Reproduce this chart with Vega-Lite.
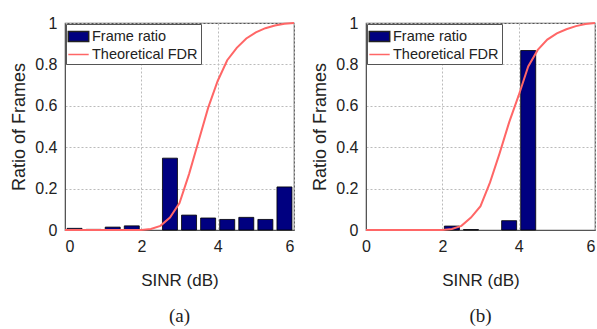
{
  "$schema": "https://vega.github.io/schema/vega-lite/v6.json",
  "padding": {"left": 10, "top": 14, "right": 0, "bottom": 0},
  "spacing": 12,
  "background": "white",
  "config": {
    "font": "Liberation Sans",
    "view": {"stroke": "#555", "strokeWidth": 1.2},
    "axis": {
      "labelFontSize": 16, "labelColor": "#222", "titleColor": "#222", "titleFontWeight": "normal",
      "grid": true, "gridDash": [2, 2], "gridColor": "#bbb",
      "domainColor": "#555", "ticks": false, "labelPadding": 8
    },
    "legend": {
      "orient": "none", "legendX": 1, "legendY": 1, "title": null, "fillColor": "white", "strokeColor": "#555",
      "padding": 3, "labelFontSize": 14.5, "labelColor": "#222", "symbolSize": 289, "rowPadding": 0,
      "labelOffset": 4, "symbolStrokeWidth": 1.5, "symbolOpacity": 1
    },
    "title": {"font": "Liberation Serif", "fontSize": 19, "fontWeight": "normal", "color": "#222", "orient": "bottom", "offset": 19}
  },
  "datasets": {
    "legendItems": [{"series": "Frame ratio"}, {"series": "Theoretical FDR"}],
    "barsA": [
      {"sinr": 0.25, "ratio": 0.008}, {"sinr": 0.75, "ratio": 0.003}, {"sinr": 1.25, "ratio": 0.014},
      {"sinr": 1.75, "ratio": 0.02}, {"sinr": 2.75, "ratio": 0.347}, {"sinr": 3.25, "ratio": 0.072},
      {"sinr": 3.75, "ratio": 0.058}, {"sinr": 4.25, "ratio": 0.051}, {"sinr": 4.75, "ratio": 0.061},
      {"sinr": 5.25, "ratio": 0.051}, {"sinr": 5.75, "ratio": 0.208}
    ],
    "curveA": [
      {"sinr": 0, "fdr": 0}, {"sinr": 1, "fdr": 0}, {"sinr": 2, "fdr": 0}, {"sinr": 2.25, "fdr": 0.005},
      {"sinr": 2.5, "fdr": 0.02}, {"sinr": 2.75, "fdr": 0.06}, {"sinr": 3, "fdr": 0.13}, {"sinr": 3.25, "fdr": 0.27},
      {"sinr": 3.5, "fdr": 0.43}, {"sinr": 3.75, "fdr": 0.59}, {"sinr": 4, "fdr": 0.72}, {"sinr": 4.25, "fdr": 0.82},
      {"sinr": 4.5, "fdr": 0.88}, {"sinr": 4.75, "fdr": 0.925}, {"sinr": 5, "fdr": 0.955}, {"sinr": 5.25, "fdr": 0.975},
      {"sinr": 5.5, "fdr": 0.988}, {"sinr": 5.75, "fdr": 0.996}, {"sinr": 6, "fdr": 1}
    ],
    "barsB": [
      {"sinr": 1.25, "ratio": 0.002}, {"sinr": 2.25, "ratio": 0.019}, {"sinr": 2.75, "ratio": 0.002},
      {"sinr": 3.75, "ratio": 0.045}, {"sinr": 4.25, "ratio": 0.867}
    ],
    "curveB": [
      {"sinr": 0, "fdr": 0}, {"sinr": 1, "fdr": 0}, {"sinr": 2, "fdr": 0}, {"sinr": 2.25, "fdr": 0.005},
      {"sinr": 2.5, "fdr": 0.02}, {"sinr": 2.75, "fdr": 0.06}, {"sinr": 3, "fdr": 0.115}, {"sinr": 3.25, "fdr": 0.23},
      {"sinr": 3.5, "fdr": 0.37}, {"sinr": 3.75, "fdr": 0.52}, {"sinr": 4, "fdr": 0.65}, {"sinr": 4.25, "fdr": 0.79},
      {"sinr": 4.5, "fdr": 0.87}, {"sinr": 4.75, "fdr": 0.92}, {"sinr": 5, "fdr": 0.95}, {"sinr": 5.25, "fdr": 0.97},
      {"sinr": 5.5, "fdr": 0.985}, {"sinr": 5.75, "fdr": 0.995}, {"sinr": 6, "fdr": 1}
    ]
  },
  "hconcat": [
    {
      "width": 229, "height": 207,
      "title": {"text": "(a)"},
      "layer": [
        {
          "data": {"name": "barsA"},
          "mark": {"type": "bar", "size": 15, "fill": "#000080", "stroke": "#000", "strokeWidth": 0.8},
          "encoding": {
            "x": {"field": "sinr", "type": "quantitative", "scale": {"domain": [0, 6], "padding": 0, "nice": false},
                  "axis": {"values": [0, 2, 4, 6], "title": "SINR (dB)", "titleFontSize": 17, "labelPadding": 8, "titlePadding": 18}},
            "y": {"field": "ratio", "type": "quantitative", "scale": {"domain": [0, 1]},
                  "axis": {"values": [0, 0.2, 0.4, 0.6, 0.8, 1], "format": "~g", "title": "Ratio of Frames", "titleFontSize": 18, "titlePadding": 6}}
          }
        },
        {
          "data": {"name": "curveA"},
          "mark": {"type": "line", "stroke": "#ff6666", "strokeWidth": 2},
          "encoding": {
            "x": {"field": "sinr", "type": "quantitative"},
            "y": {"field": "fdr", "type": "quantitative"}
          }
        },
        {
          "data": {"name": "legendItems"},
          "mark": {"type": "point", "filled": true, "opacity": 0},
          "encoding": {
            "fill": {"field": "series", "type": "nominal", "scale": {"domain": ["Frame ratio", "Theoretical FDR"], "range": ["#000080", "transparent"]}, "legend": {"title": null}},
            "stroke": {"field": "series", "type": "nominal", "scale": {"domain": ["Frame ratio", "Theoretical FDR"], "range": ["#222222", "#ff6666"]}, "legend": {"title": null}},
            "shape": {"field": "series", "type": "nominal", "scale": {"domain": ["Frame ratio", "Theoretical FDR"], "range": ["M-1.2,-0.6H1.2V0.6H-1.2Z", "M-1.2,0H1.2"]}, "legend": {"title": null}}
          }
        }
      ]
    },
    {
      "width": 229, "height": 207,
      "title": {"text": "(b)"},
      "layer": [
        {
          "data": {"name": "barsB"},
          "mark": {"type": "bar", "size": 15, "fill": "#000080", "stroke": "#000", "strokeWidth": 0.8},
          "encoding": {
            "x": {"field": "sinr", "type": "quantitative", "scale": {"domain": [0, 6], "padding": 0, "nice": false},
                  "axis": {"values": [0, 2, 4, 6], "title": "SINR (dB)", "titleFontSize": 17, "labelPadding": 8, "titlePadding": 18,
                           "labelAlign": {"condition": {"test": "datum.value === 6", "value": "right"}, "value": "center"}}},
            "y": {"field": "ratio", "type": "quantitative", "scale": {"domain": [0, 1]},
                  "axis": {"values": [0, 0.2, 0.4, 0.6, 0.8, 1], "format": "~g", "title": "Ratio of Frames", "titleFontSize": 18, "titlePadding": 6}}
          }
        },
        {
          "data": {"name": "curveB"},
          "mark": {"type": "line", "stroke": "#ff6666", "strokeWidth": 2},
          "encoding": {
            "x": {"field": "sinr", "type": "quantitative"},
            "y": {"field": "fdr", "type": "quantitative"}
          }
        },
        {
          "data": {"name": "legendItems"},
          "mark": {"type": "point", "filled": true, "opacity": 0},
          "encoding": {
            "fill": {"field": "series", "type": "nominal", "scale": {"domain": ["Frame ratio", "Theoretical FDR"], "range": ["#000080", "transparent"]}, "legend": {"title": null}},
            "stroke": {"field": "series", "type": "nominal", "scale": {"domain": ["Frame ratio", "Theoretical FDR"], "range": ["#222222", "#ff6666"]}, "legend": {"title": null}},
            "shape": {"field": "series", "type": "nominal", "scale": {"domain": ["Frame ratio", "Theoretical FDR"], "range": ["M-1.2,-0.6H1.2V0.6H-1.2Z", "M-1.2,0H1.2"]}, "legend": {"title": null}}
          }
        }
      ]
    }
  ],
  "resolve": {"scale": {"fill": "independent", "stroke": "independent", "shape": "independent"}, "legend": {"fill": "independent", "stroke": "independent", "shape": "independent"}}
}
